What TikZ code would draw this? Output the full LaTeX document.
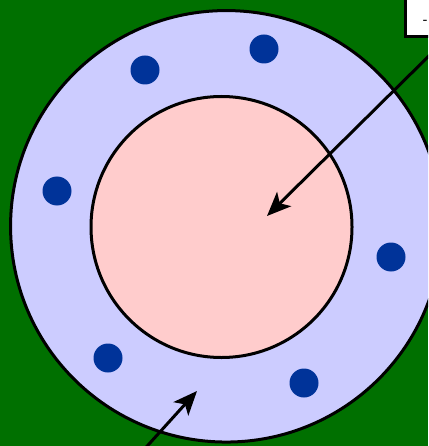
\documentclass[tikz,border=0pt]{standalone}
\usetikzlibrary{arrows.meta}
\definecolor{bggreen}{RGB}{0,112,0}
\definecolor{ringblue}{RGB}{204,204,255}
\definecolor{corepink}{RGB}{255,204,204}
\definecolor{dotblue}{RGB}{0,51,153}
\begin{document}
\begin{tikzpicture}[x=1pt,y=-1pt,
  ring/.style={circle,draw=black,line width=3pt,inner sep=0pt},
  dotnode/.style={circle,fill=dotblue,inner sep=0pt,minimum size=29pt},
  pointer/.style={draw=black,line width=3pt,-{Stealth[length=24pt,width=20pt,inset=6pt]}},
  labelbox/.style={draw=black,fill=white,line width=3pt,inner sep=0pt}]
\useasboundingbox (0,0) rectangle (428,446);
\clip (0,0) rectangle (428,446);
\fill[bggreen] (0,0) rectangle (428,446);
\node[ring,fill=ringblue,minimum size=431.5pt] (outer) at (226.3,226.3) {};
\node[ring,fill=corepink,minimum size=261pt] (inner) at (221.5,227) {};
\foreach \n/\x/\y in {d1/145/70, d2/264/49, d3/57/191, d4/391/257, d5/108/358, d6/304/383}
  \node[dotnode] (\n) at (\x,\y) {};
\node[labelbox,minimum width=60pt,minimum height=60pt,anchor=south west] (box) at (404,38.5) {};
\node[anchor=west,inner sep=0pt,font=\bfseries\large] (boxtext) at (423,22) {-};
\coordinate (s1) at (445,40);
\coordinate (t1) at (267,216);
\coordinate (s2) at (140,454);
\coordinate (t2) at (197,391);
\draw[pointer] (s1) -- (t1);
\draw[pointer] (s2) -- (t2);
\end{tikzpicture}
\end{document}
